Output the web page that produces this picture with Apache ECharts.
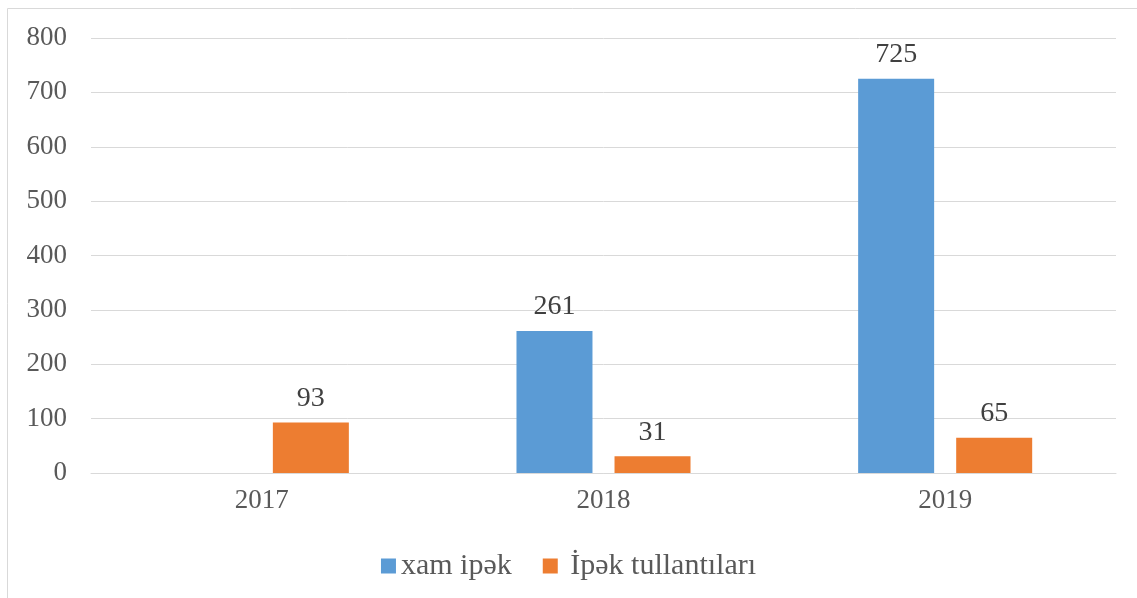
<!DOCTYPE html>
<html>
<head>
<meta charset="utf-8">
<script src="https://cdn.jsdelivr.net/npm/echarts@6/dist/echarts.min.js"></script>
<style>
  html, body { margin: 0; padding: 0; background: #fff; }
  #myChart { width: 1137px; height: 598px; }
</style>
</head>
<body>
<div id="myChart"></div>
<script>
const years = ['2017', '2018', '2019']
const xamIpek = [null, 261, 725]
const ipekTullantilari = [93, 31, 65]
const yTicks = { min: 0, max: 800, interval: 100 }

const serif = '"Liberation Serif", "Times New Roman", serif'

const myChart = echarts.init(document.getElementById('myChart'))
myChart.setOption({
  animation: false,
  textStyle: { fontFamily: serif },
  graphic: [
    {
      type: 'rect',
      shape: { x: 7.5, y: 8.5, width: 1140, height: 600 },
      style: { fill: 'none', stroke: '#d9d9d9', lineWidth: 1 },
      silent: true
    }
  ],
  legend: {
    data: ['xam ipək', 'İpək tullantıları'],
    bottom: 12,
    left: 'center',
    itemWidth: 15,
    itemHeight: 15,
    itemGap: 31,
    icon: 'rect',
    formatter: (name) => (name === 'İpək tullantıları' ? ' ' + name : name),
    textStyle: { fontFamily: serif, fontSize: 30, color: '#595959' }
  },
  grid: { left: 91, right: 21, top: 38, bottom: 125 },
  xAxis: {
    type: 'category',
    data: years,
    axisLine: { lineStyle: { color: '#d9d9d9', width: 1 } },
    axisTick: { show: false },
    axisLabel: { fontFamily: serif, fontSize: 27, color: '#595959', margin: 14 }
  },
  yAxis: {
    type: 'value',
    min: yTicks.min,
    max: yTicks.max,
    interval: yTicks.interval,
    axisLine: { show: false },
    axisTick: { show: false },
    splitLine: { lineStyle: { color: '#d9d9d9', width: 1 } },
    axisLabel: { fontFamily: serif, fontSize: 27, color: '#595959', margin: 24 }
  },
  series: [
    {
      name: 'xam ipək',
      type: 'bar',
      data: xamIpek,
      barWidth: 76,
      barGap: '29%',
      itemStyle: { color: '#5b9bd5' },
      label: {
        show: true,
        position: 'top',
        distance: 10,
        fontFamily: serif,
        fontSize: 28,
        color: '#404040'
      }
    },
    {
      name: 'İpək tullantıları',
      type: 'bar',
      data: ipekTullantilari,
      barWidth: 76,
      itemStyle: { color: '#ed7d31' },
      label: {
        show: true,
        position: 'top',
        distance: 10,
        fontFamily: serif,
        fontSize: 28,
        color: '#404040'
      }
    }
  ]
})
</script>
</body>
</html>
